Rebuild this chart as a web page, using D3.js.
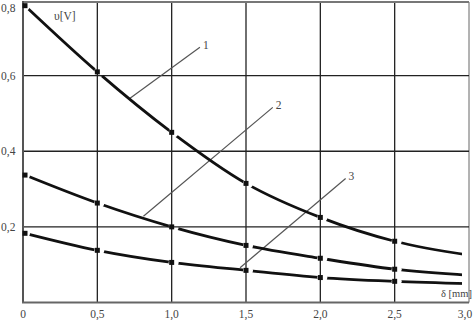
<!DOCTYPE html>
<html>
<head>
<meta charset="utf-8">
<script src="https://cdn.jsdelivr.net/npm/d3@7"></script>
<style>
  body { margin: 0; background: #fff; }
  text { font-family: "Liberation Serif", "DejaVu Serif", serif; }
</style>
</head>
<body>
<div id="chart"></div>
<script>
// gap delta [mm]
const deltas = [0, 0.5, 1.0, 1.5, 2.0, 2.5, 3.0];
// voltage [V] for each curve
const curve1 = [0.785, 0.61, 0.45, 0.315, 0.225, 0.162, 0.125];
const curve2 = [0.337, 0.263, 0.2, 0.151, 0.117, 0.088, 0.072];
const curve3 = [0.183, 0.138, 0.106, 0.085, 0.066, 0.056, 0.05];
const curves = [curve1, curve2, curve3];
const xTicks = [0, 0.5, 1.0, 1.5, 2.0, 2.5, 3.0];
const yTicks = [0.2, 0.4, 0.6, 0.8];
const curveNames = ["1", "2", "3"];
// leader lines: [start on curve (delta, v), end (delta, v)]
const leaders = [
    [[0.72, 0.54], [1.19, 0.675]],
    [[0.81, 0.228], [1.68, 0.516]],
    [[1.46, 0.092], [2.17, 0.328]]
];

const width = 473, height = 320;
const x = d3.scaleLinear().domain([0, 3]).range([23, 469]);
const y = d3.scaleLinear().domain([0, 0.8]).range([302.5, 0]);
const fmt = d => d === 0 ? "0" : d3.format(".1f")(d).replace(".", ",");

const svg = d3.select("#chart").append("svg")
    .attr("width", width)
    .attr("height", height);

// grid
svg.append("g")
    .selectAll("line")
    .data(xTicks.filter(d => d > 0))
    .join("line")
    .attr("x1", d => x(d)).attr("x2", d => x(d))
    .attr("y1", 2).attr("y2", y(0))
    .attr("stroke", d => d === 3 ? "#666" : "#222")
    .attr("stroke-width", d => d === 3 ? 1 : 1.3);

svg.append("g")
    .selectAll("line")
    .data(yTicks.filter(d => d < 0.8))
    .join("line")
    .attr("x1", x(0)).attr("x2", x(3))
    .attr("y1", d => y(d)).attr("y2", d => y(d))
    .attr("stroke", "#222")
    .attr("stroke-width", 1.3);

// frame
svg.append("line")
    .attr("x1", x(0)).attr("x2", x(3))
    .attr("y1", 2).attr("y2", 2)
    .attr("stroke", "#777").attr("stroke-width", 2);
svg.append("line")
    .attr("x1", x(0)).attr("x2", x(0))
    .attr("y1", 1).attr("y2", y(0))
    .attr("stroke", "#555").attr("stroke-width", 2);
svg.append("line")
    .attr("x1", x(0) - 1).attr("x2", x(3))
    .attr("y1", y(0)).attr("y2", y(0))
    .attr("stroke", "#666").attr("stroke-width", 2);

// tick labels
svg.append("g")
    .selectAll("text")
    .data(xTicks)
    .join("text")
    .attr("x", d => d === 3 ? x(d) - 4 : x(d))
    .attr("y", 318)
    .attr("text-anchor", "middle")
    .attr("font-size", 11.5)
    .attr("fill", "#444")
    .text(fmt);

svg.append("g")
    .selectAll("text")
    .data(yTicks)
    .join("text")
    .attr("x", 1)
    .attr("y", d => d === 0.8 ? 12 : y(d) + 4)
    .attr("font-size", 11.5)
    .attr("fill", "#444")
    .text(fmt);

// axis titles
svg.append("text")
    .attr("x", 54).attr("y", 20)
    .attr("font-size", 11.5).attr("fill", "#444")
    .text("υ[V]");
svg.append("text")
    .attr("x", 441).attr("y", 297)
    .attr("font-size", 10.5).attr("fill", "#444")
    .text("δ [mm]");

// leader lines and curve numbers
svg.append("g")
    .selectAll("line")
    .data(leaders)
    .join("line")
    .attr("x1", d => x(d[0][0])).attr("y1", d => y(d[0][1]))
    .attr("x2", d => x(d[1][0])).attr("y2", d => y(d[1][1]))
    .attr("stroke", "#555")
    .attr("stroke-width", 1.2);

svg.append("g")
    .selectAll("text")
    .data(leaders)
    .join("text")
    .attr("x", d => x(d[1][0]) + 3)
    .attr("y", d => y(d[1][1]) + 2)
    .attr("font-size", 11.5)
    .attr("fill", "#444")
    .text((d, i) => curveNames[i]);

// mask to break the curves around markers and stop them just before the border
const mask = svg.append("defs").append("mask").attr("id", "gaps");
mask.append("rect").attr("width", x(3) - 7).attr("height", height).attr("fill", "#fff");
curves.forEach(c => {
    mask.selectAll(null)
        .data(c.slice(0, -1))
        .join("circle")
        .attr("cx", (d, i) => x(deltas[i]) + 2)
        .attr("cy", d => y(d))
        .attr("r", 5)
        .attr("fill", "#000");
});

const line = d3.line()
    .x((d, i) => x(deltas[i]) + (i === 0 ? 2 : 0))
    .y(d => y(d))
    .curve(d3.curveMonotoneX);

svg.append("g")
    .attr("mask", "url(#gaps)")
    .selectAll("path")
    .data(curves)
    .join("path")
    .attr("d", line)
    .attr("fill", "none")
    .attr("stroke", "#111")
    .attr("stroke-width", 2.8);

// markers (none at the last point)
curves.forEach(c => {
    svg.append("g")
        .selectAll("rect")
        .data(c.slice(0, -1))
        .join("rect")
        .attr("x", (d, i) => x(deltas[i]) - 2.5 + (i === 0 ? 2 : 0))
        .attr("y", d => y(d) - 2.5)
        .attr("width", 5)
        .attr("height", 5)
        .attr("fill", "#111");
});
</script>
</body>
</html>
